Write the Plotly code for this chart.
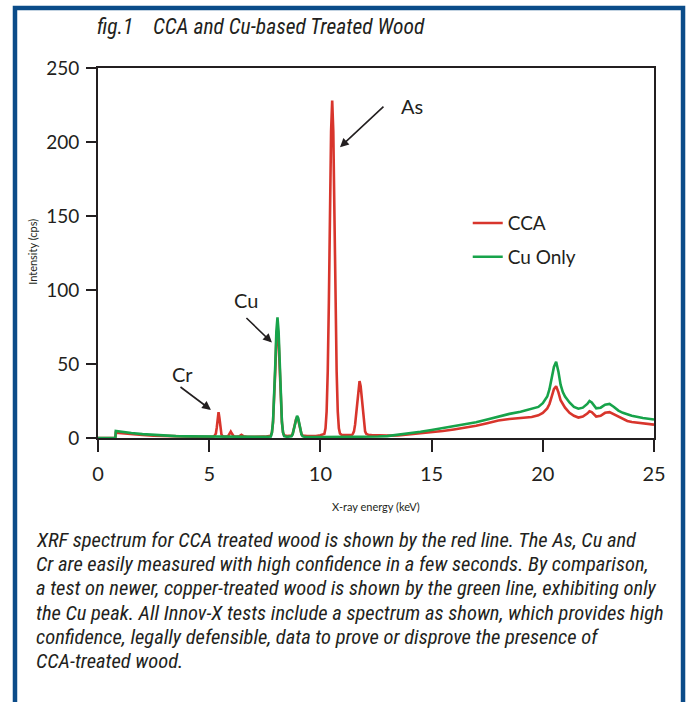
import plotly.graph_objects as go

# ---------------- data ----------------
cca_energy = [0, 0.78, 0.8, 1.0, 1.5, 2.0, 2.5, 3.0, 3.5, 4.0, 4.5, 5.0, 5.2, 5.26, 5.3, 5.34, 5.38, 5.42,
              5.46, 5.5, 5.55, 5.6, 5.7, 5.85, 5.92, 5.97, 6.02, 6.1, 6.2, 6.35, 6.45, 6.55, 6.7, 7.0, 7.5,
              7.77, 7.82, 7.87, 7.92, 7.97, 8.02, 8.07, 8.12, 8.17, 8.22, 8.27, 8.32, 8.37, 8.5,
              8.7, 8.75, 8.8, 8.85, 8.9, 8.95, 9.0, 9.05, 9.1, 9.15, 9.2, 9.4, 9.8, 10.0,
              10.18, 10.23, 10.28, 10.33, 10.38, 10.43, 10.48, 10.53, 10.58, 10.63, 10.68, 10.73, 10.78,
              10.83, 10.88, 10.95, 11.1, 11.3, 11.41, 11.46, 11.51, 11.56, 11.61, 11.66, 11.71, 11.76, 11.81,
              11.86, 11.91, 11.96, 12.01, 12.06, 12.15, 12.3, 12.6, 13.0, 13.5, 14.0, 14.5, 15.0, 15.5,
              16.0, 16.5, 17.0, 17.5, 18.0, 18.5, 19.0, 19.5, 19.8, 20.0, 20.2, 20.3, 20.4, 20.5, 20.6,
              20.7, 20.8, 20.9, 21.0, 21.2, 21.4, 21.6, 21.8, 22.0, 22.1, 22.2, 22.4, 22.6, 22.8, 23.0,
              23.2, 23.4, 23.6, 23.8, 24.0, 24.5, 25.0]
cca_counts = [0, 0, 3.6, 3.3, 2.6, 2.0, 1.6, 1.3, 1.1, 0.9, 0.8, 0.8, 1.0, 2.0, 3.0, 7.0, 13.0, 17.5,
              13.5, 7.0, 2.5, 1.2, 0.9, 1.2, 3.0, 4.3, 3.0, 1.2, 0.9, 1.2, 2.2, 1.2, 0.8, 0.8, 0.9,
              1.5, 3.8, 10.5, 24, 45, 66, 75, 66, 45, 24, 10.5, 3.8, 1.8, 1.3,
              1.6, 2.6, 5.2, 9.0, 12.5, 14.0, 12.5, 9.0, 5.2, 2.6, 1.6, 1.3, 1.4, 1.8,
              2.8, 6.5, 18, 45, 91, 152, 207, 228, 207, 152, 91, 45, 18,
              6.5, 3.0, 2.2, 2.0, 2.0, 2.0, 2.8, 4.5, 9.0, 16.5, 26, 35, 38.5, 35,
              26, 16.5, 9.0, 4.5, 2.8, 2.2, 2.0, 1.8, 1.6, 1.8, 2.4, 3.0, 3.7, 4.7,
              5.8, 7.0, 8.3, 10.0, 11.8, 12.8, 13.5, 14.2, 15.3, 17.0, 20.0, 23.0, 28.0, 33.0, 35.0,
              31.0, 25.5, 22.5, 20.5, 17.0, 15.0, 13.8, 14.5, 16.5, 18.0, 17.5, 14.5, 15.0, 17.0, 17.5,
              16.0, 14.0, 12.5, 11.5, 10.8, 9.8, 9.0]

cu_energy = [0, 0.78, 0.8, 1.0, 1.5, 2.0, 2.5, 3.0, 3.5, 4.0, 5.0, 6.0, 7.0, 7.6,
             7.77, 7.82, 7.87, 7.92, 7.97, 8.02, 8.07, 8.12, 8.17, 8.22, 8.27, 8.32, 8.37, 8.5,
             8.7, 8.75, 8.8, 8.85, 8.9, 8.95, 9.0, 9.05, 9.1, 9.15, 9.2, 9.3, 10.0, 11.0, 12.0,
             12.3, 12.6, 13.0, 13.5, 14.0, 14.5, 15.0, 15.5, 16.0, 16.5, 17.0, 17.5, 18.0, 18.5, 19.0,
             19.5, 19.8, 20.0, 20.2, 20.3, 20.4, 20.5, 20.6, 20.7, 20.8, 20.9, 21.0, 21.2, 21.4, 21.6,
             21.8, 22.0, 22.1, 22.2, 22.4, 22.6, 22.8, 23.0, 23.2, 23.4, 23.6, 23.8, 24.0, 24.5, 25.0]
cu_counts = [0, 0, 4.8, 4.3, 3.4, 2.6, 2.0, 1.6, 1.3, 1.1, 0.9, 0.8, 0.8, 0.8,
             1.0, 3.6, 11, 26, 49, 72, 81.5, 72, 49, 26, 11, 3.6, 1.2, 0.8,
             1.2, 2.4, 5.4, 9.6, 13.5, 15, 13.5, 9.6, 5.4, 2.4, 1.2, 0.7, 0.6, 0.6, 0.7,
             0.8, 1.0, 1.3, 2.2, 3.0, 4.2, 5.4, 6.6, 7.8, 9.0, 10.6, 12.5, 14.5, 16.3, 17.8,
             19.5, 21.0, 23.5, 28.0, 33.0, 40.0, 48.0, 51.5, 45.0, 36.0, 31.0, 28.0, 24.0, 21.0, 19.8,
             20.5, 23.0, 25.0, 24.0, 20.0, 20.5, 22.5, 23.0, 21.0, 18.5, 17.0, 16.0, 15.0, 13.5, 12.5]

series_names = ["CCA", "Cu Only"]
x_ticks = [0, 5, 10, 15, 20, 25]
y_ticks = [0, 50, 100, 150, 200, 250]

title_text = "fig.1\u00a0\u00a0\u00a0 CCA and Cu-based Treated Wood"
x_title = "X-ray energy (keV)"
y_title = "Intensity (cps)"
caption_lines = [
    "XRF spectrum for CCA treated wood is shown by the red line. The As, Cu and",
    "Cr are easily measured with high confidence in a few seconds. By comparison,",
    "a test on newer, copper-treated wood is shown by the green line, exhibiting only",
    "the Cu peak. All Innov-X tests include a spectrum as shown, which provides high",
    "confidence, legally defensible, data to prove or disprove the presence of",
    "CCA-treated wood.",
]
peak_labels = ["Cr", "Cu", "As"]

# ---------------- figure ----------------
RED = "#d8352c"
GREEN = "#17a34a"
DARK = "#231f20"
BLUE = "#0b4c89"
FONT = "Lato, 'Open Sans', sans-serif"
NARROW = "'Liberation Sans Narrow', 'Roboto Condensed', 'Open Sans', sans-serif"

fig = go.Figure()
fig.add_trace(go.Scatter(x=cca_energy, y=cca_counts, mode="lines", name=series_names[0],
                         line=dict(color=RED, width=2.6), legendgroup="a"))
fig.add_trace(go.Scatter(x=cu_energy, y=cu_counts, mode="lines", name=series_names[1],
                         line=dict(color=GREEN, width=2.6), legendgroup="b"))

axis_common = dict(showline=True, linecolor=DARK, linewidth=2, mirror=True, ticks="outside",
                   tickcolor=DARK, tickwidth=2, showgrid=False, zeroline=False)
fig.update_xaxes(range=[0, 25], tickvals=x_ticks, ticklen=12, ticklabelstandoff=5,
                 tickfont=dict(family=FONT, size=20, color=DARK), **axis_common)
fig.update_yaxes(range=[0, 250], tickvals=y_ticks, ticklen=10, ticklabelstandoff=3,
                 tickfont=dict(family=FONT, size=19, color=DARK), **axis_common)

annotations = []
# title
annotations.append(dict(text="<i>" + title_text + "</i>", xref="paper", yref="paper",
                        x=-0.005, y=1.111, xanchor="left", yanchor="middle", showarrow=False,
                        font=dict(family=NARROW, size=21.5, color=DARK)))
# axis titles
annotations.append(dict(text=x_title, xref="paper", yref="paper", x=0.5, y=-0.184,
                        xanchor="center", yanchor="middle", showarrow=False,
                        font=dict(family=FONT, size=11, color=DARK)))
annotations.append(dict(text=y_title, xref="paper", yref="paper", x=-0.117, y=0.503,
                        xanchor="center", yanchor="middle", showarrow=False, textangle=-90,
                        font=dict(family=FONT, size=11, color=DARK)))
# caption, one line per annotation (24 px leading)
for i, line in enumerate(caption_lines):
    ypix = 540 + 24.2 * i
    annotations.append(dict(text="<i>" + line + "</i>", xref="paper", yref="paper",
                            x=-0.116, y=(438 - ypix) / 370, xanchor="left", yanchor="middle",
                            align="left", showarrow=False,
                            font=dict(family=NARROW, size=20.5, color=DARK)))
# peak labels
label_pos = [(3.78, 43.5), (6.65, 93.5), (14.12, 224)]
for lab, (lx, ly) in zip(peak_labels, label_pos):
    annotations.append(dict(text=lab, x=lx, y=ly, xref="x", yref="y", showarrow=False,
                            xanchor="center", yanchor="middle",
                            font=dict(family=FONT, size=20, color=DARK)))
# arrows (head at data point, tail offset in pixels)
arrow_heads = [(5.08, 19.0, -32, -24), (7.82, 64.5, -27, -26), (10.88, 196.5, 45, -42)]
for hx, hy, axp, ayp in arrow_heads:
    annotations.append(dict(text="", x=hx, y=hy, xref="x", yref="y", ax=axp, ay=ayp,
                            showarrow=True, arrowhead=2, arrowsize=1.1, arrowwidth=1.6,
                            arrowcolor=DARK, standoff=0, startstandoff=0))

shapes = [dict(type="path", xref="paper", yref="paper",
               path="M -0.1493,-0.75 L -0.1493,1.1622 L 1.0522,1.1622 L 1.0522,-0.75",
               line=dict(color=BLUE, width=4.5), layer="above")]

fig.update_layout(
    width=686, height=702,
    margin=dict(l=98, r=32, t=68, b=264, autoexpand=False),
    paper_bgcolor="white", plot_bgcolor="white",
    showlegend=True,
    legend=dict(x=0.665, y=0.632, xanchor="left", yanchor="top", bgcolor="rgba(0,0,0,0)",
                font=dict(family=FONT, size=19, color=DARK), tracegroupgap=6,
                traceorder="grouped", itemwidth=30),
    annotations=annotations,
    shapes=shapes,
)

fig.write_html("out.html", config={"displayModeBar": False},
               post_script="document.body.style.margin='0';document.body.style.padding='0';")
